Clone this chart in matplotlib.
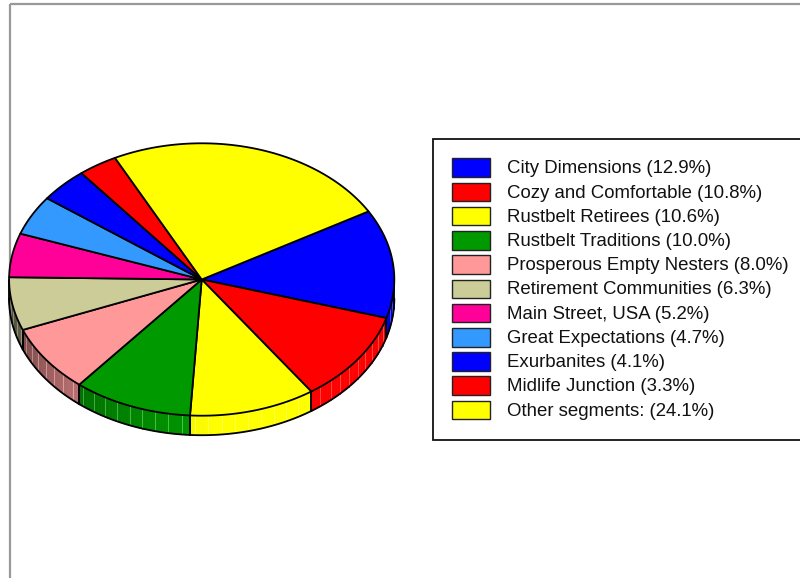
import numpy as np
import matplotlib
matplotlib.use("Agg")
import matplotlib.pyplot as plt
from matplotlib.patches import Polygon, Rectangle
from matplotlib.colors import to_rgb

# Segment shares (percent of households)
segments = [
    "City Dimensions", "Cozy and Comfortable", "Rustbelt Retirees",
    "Rustbelt Traditions", "Prosperous Empty Nesters", "Retirement Communities",
    "Main Street, USA", "Great Expectations", "Exurbanites",
    "Midlife Junction", "Other segments:",
]
shares = [12.9, 10.8, 10.6, 10.0, 8.0, 6.3, 5.2, 4.7, 4.1, 3.3, 24.1]
colors = [
    "#0000ff", "#ff0000", "#ffff00", "#009900", "#ff9999", "#cccc99",
    "#ff0099", "#3399ff", "#0000ff", "#ff0000", "#ffff00",
]

W, H = 800, 578
fig = plt.figure(figsize=(W / 100, H / 100), dpi=100)
ax = fig.add_axes([0, 0, 1, 1])
ax.set_xlim(0, W)
ax.set_ylim(H, 0)
ax.axis("off")

# outer frame
ax.plot([9.5, 9.5], [H, 4], color="#999999", lw=1.6, zorder=0, solid_capstyle="butt")
ax.plot([9.5, W], [4, 4], color="#999999", lw=1.6, zorder=0, solid_capstyle="butt")

# pie geometry (pixel space)
cx, cy, rx, ry, depth = 201.7, 279.5, 192.6, 136.2, 19.5
start_angle = 30.0


def pt(t_deg, dy=0.0):
    t = np.radians(t_deg)
    return cx + rx * np.cos(t), cy - ry * np.sin(t) + dy


def arc(a, b, dy=0.0, n=None):
    if n is None:
        n = max(4, int(abs(b - a) * 2) + 2)
    ts = np.linspace(a, b, n)
    xs, ys = pt(ts, dy)
    return np.column_stack([xs, ys])


def shade(t_deg):
    t = t_deg % 360
    return float(np.clip(0.55 + 0.5 * np.cos(np.radians(t - 300)), 0, 1))


fracs = np.array(shares) / sum(shares)
bounds = start_angle - np.concatenate([[0], np.cumsum(fracs)]) * 360.0

# side walls (front half only)
for i, col in enumerate(colors):
    hi, lo = bounds[i], bounds[i + 1]
    a, b = max(lo, -180.0), min(hi, 0.0)
    if b <= a:
        continue
    base = np.array(to_rgb(col))
    step = 1.0
    edges = np.arange(a, b, step)
    edges = np.append(edges, b)
    for t0, t1 in zip(edges[:-1], edges[1:]):
        f = shade(0.5 * (t0 + t1))
        c = base * f
        poly = np.vstack([arc(t0, t1, 0, 3), arc(t1, t0, depth, 3)])
        ax.add_patch(Polygon(poly, closed=True, facecolor=c, edgecolor=c,
                             lw=0.6, zorder=2))
    # light vertical stripes
    for t in np.arange(np.ceil(a / 4.0) * 4.0, b, 4.0):
        if t - a < 1.0 or b - t < 1.0:
            continue
        f = shade(t)
        c = np.clip(base * f * 0.85 + 0.28, 0, 1)
        x0, y0 = pt(t)
        x1, y1 = pt(t, depth)
        ax.plot([x0, x1], [y0, y1], color=c, lw=0.7, zorder=3)
    # outline
    bot = arc(a, b, depth)
    ax.plot(bot[:, 0], bot[:, 1], color="black", lw=1.3, zorder=4)
    for t in (a, b):
        x0, y0 = pt(t)
        x1, y1 = pt(t, depth)
        ax.plot([x0, x1], [y0, y1], color="black", lw=1.1, zorder=4)

# top face
for i, col in enumerate(colors):
    hi, lo = bounds[i], bounds[i + 1]
    poly = np.vstack([[cx, cy], arc(hi, lo)])
    ax.add_patch(Polygon(poly, closed=True, facecolor=col, edgecolor="black",
                         lw=1.3, joinstyle="round", zorder=5))

# legend
lx0, ly0, ly1 = 433.3, 139.3, 440.0
ax.add_patch(Rectangle((lx0, ly0), W + 20 - lx0, ly1 - ly0, facecolor="white",
                       edgecolor="#111111", lw=1.3, zorder=6))
row0, row_step = 158.3, 24.24
sw_x, sw_w, sw_h = 451.7, 38.0, 18.6
for i, (name, v, col) in enumerate(zip(segments, shares, colors)):
    y = row0 + i * row_step
    ax.add_patch(Rectangle((sw_x, y), sw_w, sw_h, facecolor=col,
                           edgecolor="#222222", lw=1.0, zorder=7))
    ax.text(507.3, y + sw_h / 2 + 1.2, f"{name} ({v:.1f}%)", fontsize=13.4,
            family="Liberation Sans", color="#111111", va="center",
            ha="left", zorder=8)

fig.savefig("out.png", dpi=100)
